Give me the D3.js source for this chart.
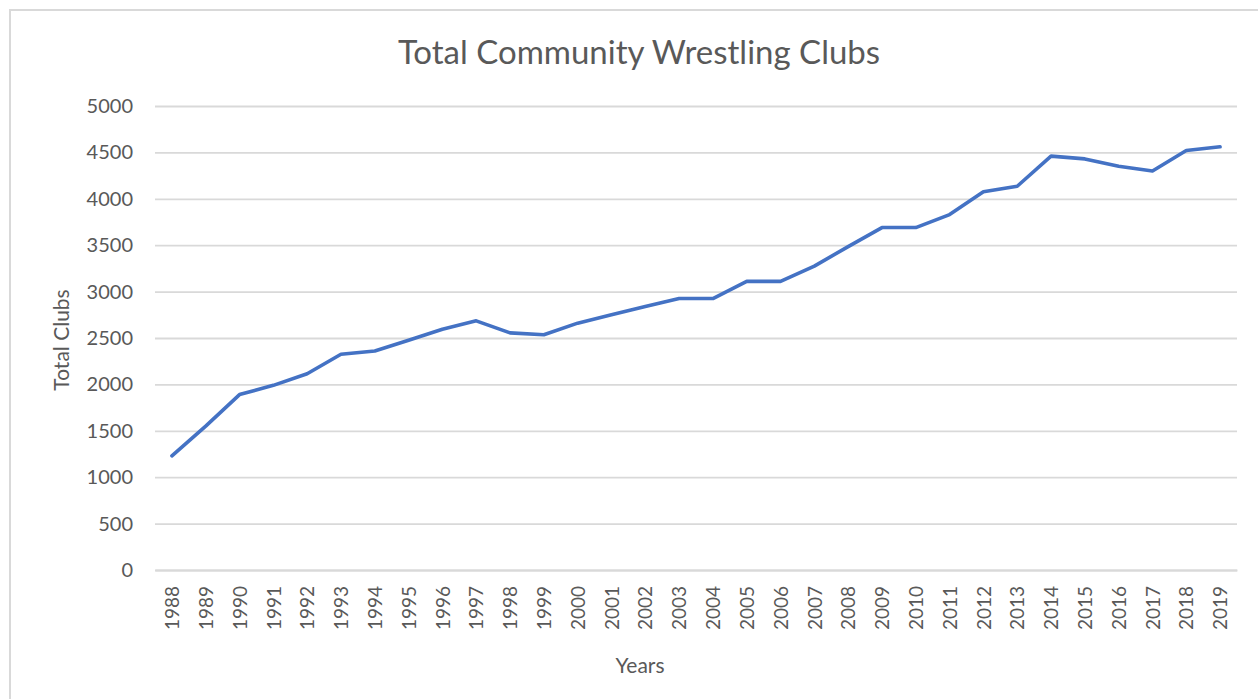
<!DOCTYPE html>
<html><head><meta charset="utf-8">
<script src="https://cdn.jsdelivr.net/npm/d3@7"></script>
<style>body{margin:0;background:#fff;} svg{display:block;}</style>
</head><body>
<svg id="chart" width="1258" height="699"></svg>
<script>
const years = ["1988","1989","1990","1991","1992","1993","1994","1995","1996","1997","1998","1999","2000","2001","2002","2003","2004","2005","2006","2007","2008","2009","2010","2011","2012","2013","2014","2015","2016","2017","2018","2019"];
const totalClubs = [1230,1550,1890,1990,2115,2325,2360,2475,2595,2685,2555,2535,2660,2750,2840,2925,2925,3110,3110,3275,3485,3690,3690,3830,4075,4135,4460,4430,4350,4300,4520,4560];
const yTicks = [0,500,1000,1500,2000,2500,3000,3500,4000,4500,5000];
const titleText = "Total Community Wrestling Clubs";
const xTitle = "Years";
const yTitle = "Total Clubs";

const svg = d3.select("#chart");
const FONT = "Lato, 'Open Sans', sans-serif";
const TXT = "#595959";

// outer frame
svg.append("rect").attr("x",10).attr("y",10).attr("width",1400).attr("height",900)
  .attr("fill","none").attr("stroke","#d9d9d9").attr("stroke-width",2);

const x = d3.scalePoint().domain(years).range([155,1237]).padding(0.5);
const y = d3.scaleLinear().domain([0,5000]).range([570,106]);

// gridlines
const yAxis = d3.axisLeft(y).tickValues(yTicks).tickSize(-(1237-155)).tickPadding(22).tickFormat(d3.format("d"));
const gy = svg.append("g").attr("transform","translate(155,0)").call(yAxis);
gy.select(".domain").remove();
gy.selectAll(".tick line").attr("stroke","#d9d9d9").attr("stroke-width",1.8);
gy.selectAll(".tick text").attr("fill",TXT).style("font-family",FONT).style("font-size","20px");

// x axis
const xAxis = d3.axisBottom(x).tickSize(0).tickPadding(0);
const gx = svg.append("g").attr("transform","translate(0,570)").call(xAxis);
gx.select(".domain").attr("stroke","#d9d9d9").attr("stroke-width",1.8);
gx.selectAll(".tick text")
  .attr("fill",TXT).style("font-family",FONT).style("font-size","19px")
  .attr("transform","rotate(-90)")
  .attr("text-anchor","end")
  .attr("x",-16).attr("y",0).attr("dy","0.35em");

// line
const line = d3.line().x((d,i)=>x(years[i])).y(d=>y(d));
svg.append("path").datum(totalClubs)
  .attr("fill","none").attr("stroke","#4472C4").attr("stroke-width",3.6)
  .attr("stroke-linejoin","round").attr("stroke-linecap","round")
  .attr("d",line);

// title
svg.append("text").attr("x",639).attr("y",64).attr("text-anchor","middle")
  .attr("fill",TXT).style("font-family",FONT).style("font-size","33px").text(titleText);

// axis titles
svg.append("text").attr("x",640).attr("y",673).attr("text-anchor","middle")
  .attr("fill",TXT).style("font-family",FONT).style("font-size","21px").text(xTitle);
svg.append("text").attr("transform","translate(69,340) rotate(-90)").attr("text-anchor","middle")
  .attr("fill",TXT).style("font-family",FONT).style("font-size","21px").text(yTitle);
</script>
</body></html>
